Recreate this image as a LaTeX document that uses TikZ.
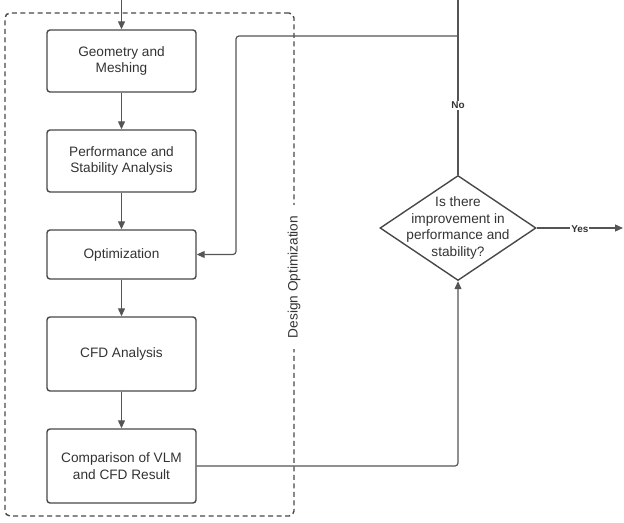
\documentclass[tikz,border=0pt]{standalone}
\usepackage{fontspec}
\setmainfont{Liberation Sans}
\usetikzlibrary{arrows.meta,shapes.geometric}
\definecolor{ln}{HTML}{555555}
\definecolor{bx}{HTML}{484848}
\definecolor{tx}{HTML}{333333}
\begin{document}
\begin{tikzpicture}[x=1bp,y=-1bp,
  every node/.style={text=tx},
  stepbox/.style={draw=bx,line width=1.4bp,rounded corners=3bp,minimum width=149bp,align=center,
    font=\fontsize{13.7}{16.5}\selectfont,inner sep=2bp},
  arr/.style={draw=ln,line width=1.2bp,-{Triangle[length=8bp,width=7bp]}},
  con/.style={draw=ln,line width=1.2bp},
  lab/.style={fill=white,font=\bfseries\fontsize{10}{12}\selectfont,inner sep=1bp}]
\useasboundingbox (0,0) rectangle (624,523);
% group
\node[draw=bx,line width=1.4bp,dash pattern=on 5bp off 3.5bp,rounded corners=5bp,minimum width=289bp,minimum height=503bp,inner sep=0] (grp) at (149.5,264.5) {};
\node[rotate=90,fill=white,inner xsep=11bp,inner ysep=1bp,font=\fontsize{13.7}{16.5}\selectfont] (glab) at (294,277) {Design Optimization};
% boxes
\node[stepbox,minimum height=62bp] (geo) at (121.5,61) {Geometry and\\Meshing};
\node[stepbox,minimum height=62bp] (perf) at (121.5,161) {Performance and\\Stability Analysis};
\node[stepbox,minimum height=49bp] (opt) at (121.5,254.5) {Optimization};
\node[stepbox,minimum height=74bp] (cfd) at (121.5,354) {CFD Analysis};
\node[stepbox,minimum height=74bp] (cmp) at (121.5,466) {Comparison of VLM\\and CFD Result};
% decision
\node[diamond,draw=bx,line width=1.4bp,minimum width=156bp,minimum height=105bp,inner sep=0,
  label={[align=center,font=\fontsize{13.7}{16.5}\selectfont,text=tx]center:Is there\\improvement in\\performance and\\stability?}] (dec) at (458,228) {};
% coordinates
\coordinate (top) at (121.5,0);
\coordinate (top2) at (458,0);
\coordinate (j) at (458,36);
\coordinate (yesend) at (623,228);
% connectors
\draw[arr] (top) -- (geo);
\draw[arr] (geo) -- (perf);
\draw[arr] (perf) -- (opt);
\draw[arr] (opt) -- (cfd);
\draw[arr] (cfd) -- (cmp);
\draw[arr,rounded corners=3bp] (cmp.east) -| (dec.south);
\draw[con] (dec.north) -- node[lab] {No} (j) -- (top2);
\draw[arr,rounded corners=3bp] (j) -- (236,36) |- (opt.east);
\draw[arr] (dec.east) -- node[lab,pos=0.5,yshift=-1bp] {Yes} (yesend);
\end{tikzpicture}
\end{document}
